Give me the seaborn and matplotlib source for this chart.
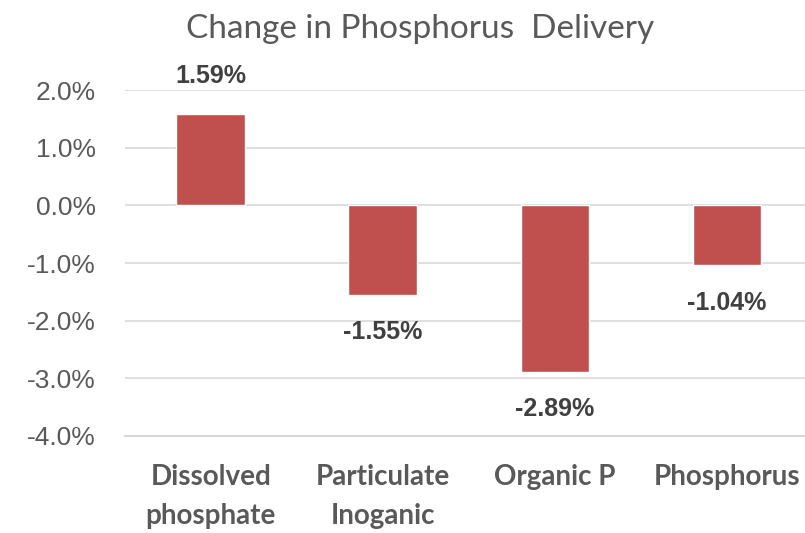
import matplotlib
matplotlib.use("Agg")
import matplotlib.pyplot as plt
import seaborn as sns
import pandas as pd
from matplotlib.ticker import FuncFormatter

# chart data
categories = ["Dissolved\nphosphate", "Particulate\nInoganic", "Organic P", "Phosphorus"]
changes = [1.59, -1.55, -2.89, -1.04]
title = "Change in Phosphorus  Delivery"

bar_color = "#C0504D"
text_color = "#595959"

df = pd.DataFrame({"category": categories, "change": changes})

sns.set_style("white")
fig = plt.figure(figsize=(8.05, 5.33), dpi=100)
ax = fig.add_axes([0.155, 0.182, 0.855, 0.649])

sns.barplot(data=df, x="category", y="change", color=bar_color, width=0.4,
            saturation=1, ax=ax, zorder=3)

ax.set_ylim(-4, 2)
ax.set_yticks([2, 1, 0, -1, -2, -3, -4])
ax.yaxis.set_major_formatter(FuncFormatter(lambda v, p: f"{v:.1f}%"))
ax.grid(axis="y", color="#D9D9D9", linewidth=1.2, zorder=0)
ax.set_axisbelow(True)
for s in ["top", "right", "left"]:
    ax.spines[s].set_visible(False)
ax.spines["bottom"].set_color("#D9D9D9")
ax.spines["bottom"].set_linewidth(1.5)
ax.set_xlabel("")
ax.set_ylabel("")
ax.tick_params(axis="both", length=0)
ax.tick_params(axis="y", pad=21, labelsize=19, labelcolor=text_color)
ax.tick_params(axis="x", pad=20, labelcolor=text_color)
for t in ax.get_yticklabels():
    t.set_fontfamily("Liberation Sans")
for t in ax.get_xticklabels():
    t.set_fontfamily("Lato")
    t.set_fontweight("bold")
    t.set_fontsize(20)
    t.set_linespacing(1.65)

for i, v in enumerate(changes):
    off = 27 if v > 0 else -27
    ax.annotate(f"{v:.2f}%", (i, v), xytext=(0, off), textcoords="offset points",
                ha="center", va="center", fontsize=18, fontweight="bold",
                fontfamily="Liberation Sans", color="#404040", annotation_clip=False)

fig.text(0.522, 0.945, title, ha="center", va="center", fontsize=24,
         fontfamily="Lato", color=text_color)

fig.savefig("out.png", dpi=100)
